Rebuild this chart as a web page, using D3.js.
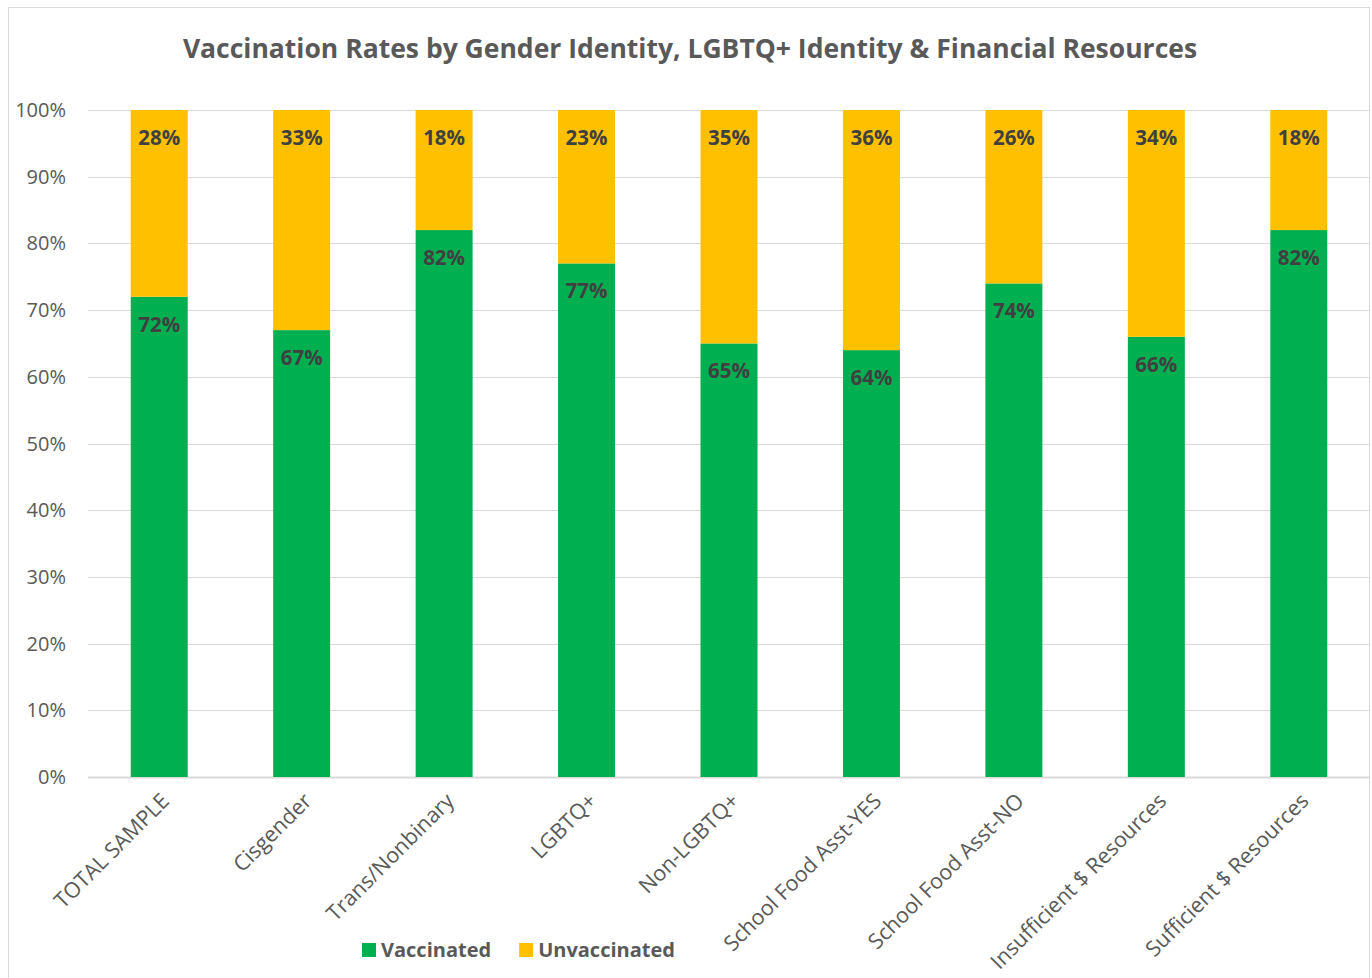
<!DOCTYPE html>
<html>
<head>
	<meta charset="utf-8">
	<style>
		body { margin: 0; background: #fff; font-family: "Open Sans", sans-serif; }
	</style>
</head>
<body>
	<div id="chart"></div>
	<script src="https://cdn.jsdelivr.net/npm/d3@7"></script>
	<script>
		// chart values
		var categories = ["TOTAL SAMPLE", "Cisgender", "Trans/Nonbinary", "LGBTQ+", "Non-LGBTQ+",
			"School Food Asst-YES", "School Food Asst-NO", "Insufficient $ Resources", "Sufficient $ Resources"];
		var vaccinated = [72, 67, 82, 77, 65, 64, 74, 66, 82];
		var unvaccinated = [28, 33, 18, 23, 35, 36, 26, 34, 18];
		var yTicks = [0, 10, 20, 30, 40, 50, 60, 70, 80, 90, 100];
		var seriesNames = ["Vaccinated", "Unvaccinated"];
		var seriesColors = ["#00b050", "#ffc000"];

		var width = 1372, height = 978;
		var margin = { top: 110, right: 2, bottom: 201, left: 88 };

		var svg = d3.select("#chart").append("svg")
			.attr("width", width)
			.attr("height", height);

		// chart border
		svg.append("rect")
			.attr("x", 8.5).attr("y", 7.5)
			.attr("width", 1361).attr("height", 985)
			.attr("fill", "#fff")
			.attr("stroke", "#d9d9d9");

		svg.append("text")
			.attr("x", 690).attr("y", 58)
			.attr("text-anchor", "middle")
			.style("font-size", "26.5px")
			.style("font-weight", "bold")
			.style("fill", "#595959")
			.text("Vaccination Rates by Gender Identity, LGBTQ+ Identity & Financial Resources");

		var x = d3.scaleBand()
			.domain(categories)
			.range([margin.left, width - margin.right])
			.paddingInner(0.6)
			.paddingOuter(0.3);

		var y = d3.scaleLinear()
			.domain([0, 100])
			.range([height - margin.bottom, margin.top]);

		// gridlines
		svg.append("g")
			.selectAll("line")
			.data(yTicks)
			.enter().append("line")
			.attr("x1", margin.left)
			.attr("x2", width - margin.right)
			.attr("y1", function(d) { return Math.round(y(d)) + 0.5; })
			.attr("y2", function(d) { return Math.round(y(d)) + 0.5; })
			.attr("stroke", "#d9d9d9")
			.attr("stroke-width", function(d) { return d === 0 ? 2 : 1; });

		// y tick labels
		svg.append("g")
			.selectAll("text")
			.data(yTicks)
			.enter().append("text")
			.attr("x", 66)
			.attr("y", function(d) { return y(d); })
			.attr("dy", "0.35em")
			.attr("text-anchor", "end")
			.style("font-size", "20px")
			.style("fill", "#595959")
			.text(function(d) { return d + "%"; });

		var bars = svg.append("g");
		categories.forEach(function(c, i) {
			var bx = x(c), bw = x.bandwidth();
			bars.append("rect")
				.attr("x", bx).attr("width", bw)
				.attr("y", y(vaccinated[i]))
				.attr("height", y(0) - y(vaccinated[i]))
				.attr("fill", seriesColors[0]);
			bars.append("rect")
				.attr("x", bx).attr("width", bw)
				.attr("y", y(vaccinated[i] + unvaccinated[i]))
				.attr("height", y(vaccinated[i]) - y(vaccinated[i] + unvaccinated[i]))
				.attr("fill", seriesColors[1]);
			bars.append("text")
				.attr("x", bx + bw / 2)
				.attr("y", y(vaccinated[i]) + 35)
				.attr("text-anchor", "middle")
				.style("font-size", "20.5px")
				.style("font-weight", "bold")
				.style("fill", "#404040")
				.text(vaccinated[i] + "%");
			bars.append("text")
				.attr("x", bx + bw / 2)
				.attr("y", y(vaccinated[i] + unvaccinated[i]) + 35)
				.attr("text-anchor", "middle")
				.style("font-size", "20.5px")
				.style("font-weight", "bold")
				.style("fill", "#404040")
				.text(unvaccinated[i] + "%");
		});

		// rotated category labels
		svg.append("g")
			.selectAll("text")
			.data(categories)
			.enter().append("text")
			.attr("transform", function(d) {
				return "translate(" + (x(d) + x.bandwidth() / 2 + 6) + "," + (y(0) + 20) + ") rotate(-45)";
			})
			.attr("text-anchor", "end")
			.attr("dy", "0.35em")
			.style("font-size", "21.5px")
			.style("fill", "#595959")
			.text(function(d) { return d; });

		// legend
		var legend = svg.append("g").attr("transform", "translate(362, 950)");
		var lx = 0;
		seriesNames.forEach(function(n, i) {
			legend.append("rect")
				.attr("x", lx).attr("y", -7)
				.attr("width", 14).attr("height", 14)
				.attr("fill", seriesColors[i]);
			var t = legend.append("text")
				.attr("x", lx + 19).attr("y", 0)
				.attr("dy", "0.35em")
				.style("font-size", "20px")
				.style("font-weight", "bold")
				.style("fill", "#595959")
				.text(n);
			lx += 19 + t.node().getComputedTextLength() + 28;
		});
	</script>
</body>
</html>
